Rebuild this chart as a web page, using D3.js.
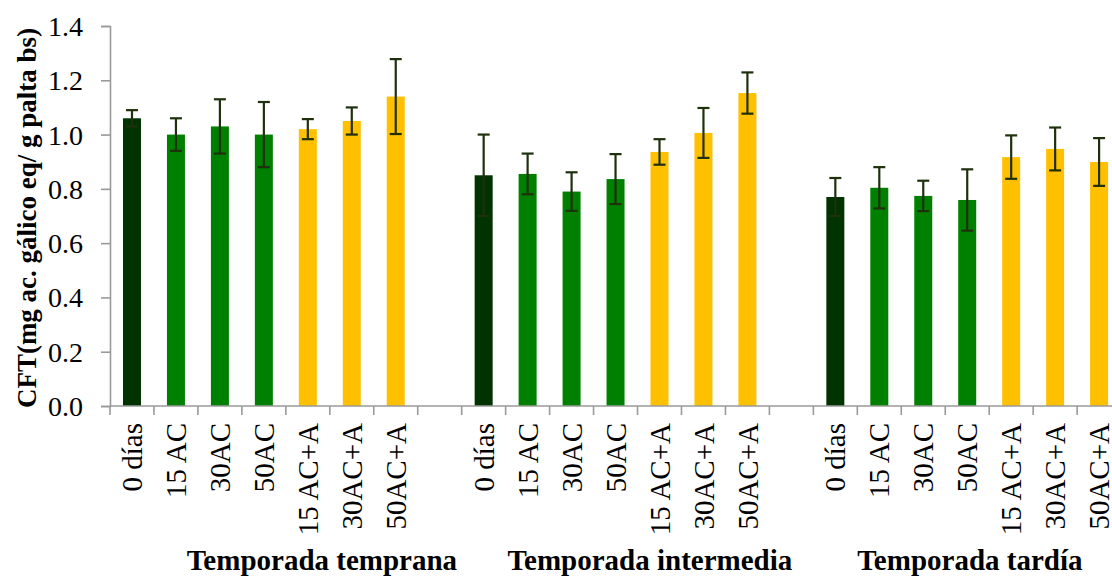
<!DOCTYPE html>
<html>
<head>
<meta charset="utf-8">
<script src="https://cdn.jsdelivr.net/npm/d3@7"></script>
<style>
  html, body { margin: 0; padding: 0; background: #fff; }
  svg { display: block; }
  text { font-family: "Liberation Serif", "Times New Roman", serif; fill: #000; }
</style>
</head>
<body>
<svg id="chart" width="1112" height="576"></svg>
<script>
// ---- data ----
const groups = ["Temporada temprana", "Temporada intermedia", "Temporada tardía"];
const treatments = ["0 días", "15 AC", "30AC", "50AC", "15 AC+A", "30AC+A", "50AC+A"];
const treatmentColors = ["#003300", "#008000", "#008000", "#008000", "#FFC000", "#FFC000", "#FFC000"];

const valuesTemprana   = [1.06, 1.00, 1.03, 1.00, 1.02, 1.05, 1.14];
const errorsTemprana   = [0.03, 0.06, 0.10, 0.12, 0.037, 0.05, 0.138];
const valuesIntermedia = [0.85, 0.855, 0.79, 0.836, 0.936, 1.006, 1.153];
const errorsIntermedia = [0.15, 0.075, 0.071, 0.092, 0.047, 0.092, 0.076];
const valuesTardia     = [0.77, 0.804, 0.774, 0.759, 0.917, 0.947, 0.899];
const errorsTardia     = [0.07, 0.076, 0.056, 0.113, 0.08, 0.079, 0.088];

const yTicks = [0.0, 0.2, 0.4, 0.6, 0.8, 1.0, 1.2, 1.4];
const yTitle = "CFT(mg ac. gálico eq/ g palta bs)";

// ---- layout ----
const seriesValues = [valuesTemprana, valuesIntermedia, valuesTardia];
const seriesErrors = [errorsTemprana, errorsIntermedia, errorsTardia];
const slotsPerGroup = treatments.length + 1; // one empty slot between groups
const nSlots = groups.length * slotsPerGroup - 1;

const rows = [];
groups.forEach((g, gi) => {
  treatments.forEach((t, ti) => {
    rows.push({
      group: g, treatment: t,
      slot: gi * slotsPerGroup + ti,
      value: seriesValues[gi][ti],
      err: seriesErrors[gi][ti],
      color: treatmentColors[ti]
    });
  });
});

const x0 = 110, slotW = 43.96;
const svg = d3.select("#chart");
const x = d3.scaleBand()
  .domain(d3.range(nSlots))
  .range([x0, x0 + slotW * nSlots])
  .paddingInner(0).paddingOuter(0);
const y = d3.scaleLinear().domain([0, 1.4]).range([406, 26]);

const axisColor = "#9a9a9a";
const barW = 18;

// y axis
const yAxis = svg.append("g")
  .attr("transform", `translate(${x0},0)`)
  .call(d3.axisLeft(y).tickValues(yTicks).tickSize(9).tickFormat(d3.format(".1f")));
yAxis.select(".domain").attr("stroke", axisColor).attr("stroke-width", 1.6);
yAxis.selectAll(".tick line").attr("stroke", axisColor).attr("stroke-width", 1.6);
yAxis.selectAll(".tick text")
  .attr("x", -27)
  .attr("dy", "0.34em")
  .style("font-size", "28px")
  .style("font-family", "'Liberation Serif', serif")
  .attr("fill", "#000");

// bars
svg.append("g").selectAll("rect")
  .data(rows).join("rect")
  .attr("x", d => x(d.slot) + x.bandwidth() / 2 - barW / 2)
  .attr("width", barW)
  .attr("y", d => y(d.value))
  .attr("height", d => y(0) - y(d.value))
  .attr("fill", d => d.color);

// x axis (drawn over bar bottoms)
const xAxis = svg.append("g")
  .attr("transform", `translate(0,${y(0)})`);
xAxis.append("line")
  .attr("x1", x0).attr("x2", x0 + slotW * nSlots)
  .attr("stroke", axisColor).attr("stroke-width", 1.6);
xAxis.selectAll("line.tick")
  .data(d3.range(nSlots + 1)).join("line")
  .attr("class", "tick")
  .attr("x1", i => x0 + i * x.step()).attr("x2", i => x0 + i * x.step())
  .attr("y1", 0).attr("y2", 9)
  .attr("stroke", axisColor).attr("stroke-width", 1.6);

// error bars
const errColor = "#1e300c";
const eg = svg.append("g").attr("stroke", errColor).attr("stroke-width", 2.2);
rows.forEach(d => {
  const cx = x(d.slot) + x.bandwidth() / 2;
  const yt = y(d.value + d.err), yb = y(d.value - d.err);
  eg.append("line").attr("x1", cx).attr("x2", cx).attr("y1", yt).attr("y2", yb);
  eg.append("line").attr("x1", cx - 6).attr("x2", cx + 6).attr("y1", yt).attr("y2", yt);
  eg.append("line").attr("x1", cx - 6).attr("x2", cx + 6).attr("y1", yb).attr("y2", yb);
});

// x tick labels (rotated)
svg.append("g").selectAll("text")
  .data(rows).join("text")
  .attr("transform", d => `translate(${x(d.slot) + x.bandwidth() / 2},${y(0) + 17}) rotate(-90)`)
  .attr("dy", "0.35em")
  .attr("text-anchor", "end")
  .style("font-size", "29px")
  .text(d => d.treatment);

// group labels
const labelSlotCenters = [4.82, 12.28, 19.56];
const slotPos = d3.scaleLinear().domain([0, nSlots]).range([x0, x0 + slotW * nSlots]);
svg.append("g").selectAll("text")
  .data(groups).join("text")
  .attr("x", (g, i) => slotPos(labelSlotCenters[i]))
  .attr("y", 570)
  .attr("text-anchor", "middle")
  .style("font-size", "29px")
  .style("font-weight", "bold")
  .text(g => g);

// y title
svg.append("text")
  .attr("transform", `translate(36,${(26 + 410) / 2}) rotate(-90)`)
  .attr("text-anchor", "middle")
  .style("font-size", "27px")
  .style("font-weight", "bold")
  .text(yTitle);
</script>
</body>
</html>
